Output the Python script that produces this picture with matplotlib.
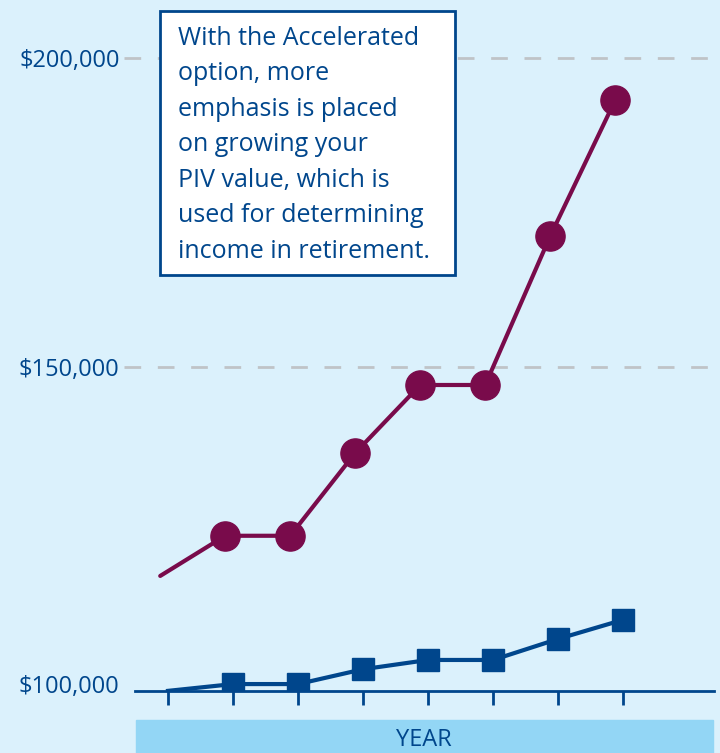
"""
Accelerated vs. standard PIV growth illustration.
"""

import numpy as np
import matplotlib
matplotlib.use("Agg")
from matplotlib import pyplot as plt
from matplotlib.patches import Rectangle
from matplotlib.transforms import ScaledTranslation, blended_transform_factory

# values (dollars)
years = np.arange(8)
accelerated = [116200, 122700, 122700, 136100, 147100, 147100, 171200, 193200]
standard = [97600, 98700, 98700, 101100, 102600, 102600, 106000, 109100]
y_ticks = [100000, 150000, 200000]
y_tick_labels = ["$100,000", "$150,000", "$200,000"]
note = ("With the Accelerated\noption, more\nemphasis is placed\non growing your\n"
        "PIV value, which is\nused for determining\nincome in retirement.")

BG = "#dbf1fc"
NAVY = "#00468c"
PLUM = "#790b4b"
BAND = "#93d6f5"
GRID = "#bfc3c7"

plt.rcParams["font.family"] = ["Open Sans", "DejaVu Sans"]

fig = plt.figure(figsize=(7.2, 7.53), dpi=100, facecolor=BG)
ax = fig.add_axes([0.1875, 0.0823, 0.8042, 0.891])
ax.set_facecolor(BG)

ax.set_xlim(-0.508, 8.4)
ax.set_ylim(97573, 206150)

# dashed guide lines running past the left edge of the axes
trans = blended_transform_factory(ax.transAxes, ax.transData)
for v in y_ticks[1:]:
    ax.plot([-0.019, 1.02], [v, v], transform=trans, color=GRID, lw=2,
            dashes=(6, 6), clip_on=False, zorder=1)

ax.plot(years - 0.12, accelerated, color=PLUM, lw=3, solid_capstyle="round", zorder=3)
ax.plot(years[1:] - 0.12, accelerated[1:], ls="none", marker="o", ms=21,
        color=PLUM, zorder=4)
ax.plot(years, standard, color=NAVY, lw=3, zorder=3)
ax.plot(years[1:], standard[1:], ls="none", marker="s", ms=16.5, color=NAVY, zorder=4)

for side in ["top", "right", "left"]:
    ax.spines[side].set_visible(False)
ax.spines["bottom"].set_color(NAVY)
ax.spines["bottom"].set_linewidth(2)

ax.set_xticks(years)
ax.set_xticklabels([])
ax.tick_params(axis="x", length=10, width=2, color=NAVY)
ax.set_yticks(y_ticks)
ax.set_yticklabels(y_tick_labels)
ax.tick_params(axis="y", length=0, pad=11, labelsize=17, labelcolor=NAVY)
# the lowest label sits a little under its gridline in the original
lab0 = ax.get_yticklabels()[0]
lab0.set_transform(lab0.get_transform() + ScaledTranslation(0, -0.08, fig.dpi_scale_trans))

fig.patches.append(Rectangle((136 / 720, 0), 577 / 720, 33 / 753,
                             transform=fig.transFigure, color=BAND, zorder=0))
fig.text(424 / 720, 7 / 753, "YEAR", ha="center", va="baseline",
         fontsize=17, color=NAVY)

fig.patches.append(Rectangle((160 / 720, 1 - 275 / 753), 295 / 720, 264 / 753,
                             transform=fig.transFigure, facecolor="white",
                             edgecolor=NAVY, lw=2, zorder=5))
fig.text(178 / 720, 1 - 26 / 753, note, ha="left", va="top", fontsize=18,
         color=NAVY, linespacing=1.55, zorder=6)

fig.savefig("out.png", dpi=100, facecolor=BG)
